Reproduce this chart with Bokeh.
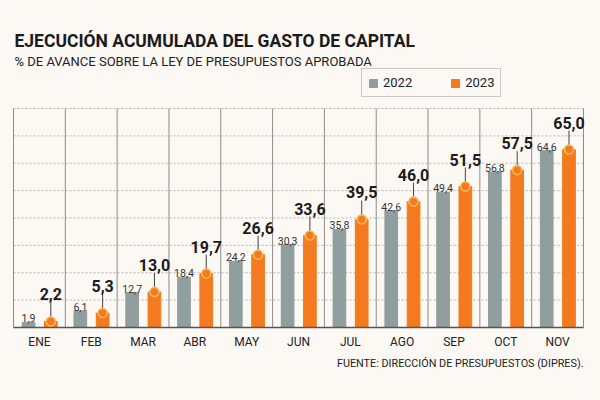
from bokeh.plotting import figure
from bokeh.models import Label, Legend, LegendItem, ColumnDataSource, Range1d
from bokeh.core.properties import value
from bokeh.embed import file_html
from bokeh.resources import INLINE

months = ["ENE", "FEB", "MAR", "ABR", "MAY", "JUN", "JUL", "AGO", "SEP", "OCT", "NOV"]
v2022 = [1.9, 6.1, 12.7, 18.4, 24.2, 30.3, 35.8, 42.6, 49.4, 56.8, 64.6]
v2023 = [2.2, 5.3, 13.0, 19.7, 26.6, 33.6, 39.5, 46.0, 51.5, 57.5, 65.0]
y_ticks = [10, 20, 30, 40, 50, 60, 70, 80]

title = "EJECUCIÓN ACUMULADA DEL GASTO DE CAPITAL"
subtitle = "% DE AVANCE SOBRE LA LEY DE PRESUPUESTOS APROBADA"
source_txt = "FUENTE: DIRECCIÓN DE PRESUPUESTOS (DIPRES)."

BG = "#fcf8f4"
GRAY = "#919e9e"
ORANGE = "#f47a20"
FONT = "Roboto"

W, H = 600, 400
PL, PR, PT, PB = 13, 583, 108, 327   # plot area in canvas pixels
YMAX = 80
n = len(months)
cw = (PR - PL) / n            # px per category
ppu = (PB - PT) / YMAX        # px per value unit

p = figure(width=W, height=H, output_backend="svg", toolbar_location=None,
           x_range=Range1d(-PL / cw, (W - PL) / cw),
           y_range=Range1d(-(H - PB) / ppu, PB / ppu),
           x_axis_location=None, y_axis_location=None,
           min_border=0, background_fill_color=BG, border_fill_color=BG)
p.outline_line_color = None
p.xgrid.visible = False
p.ygrid.visible = False

idx = list(range(n))
xc = [i + 0.5 for i in idx]
xg = [i + 0.5 - 0.21 for i in idx]
xo = [i + 0.5 + 0.22 for i in idx]
fmt = lambda v: f"{v:.1f}".replace(".", ",")

src = ColumnDataSource(dict(xg=xg, xo=xo, v22=v2022, v23=v2023,
                            l22=[fmt(v) for v in v2022], l23=[fmt(v) for v in v2023]))

# grid: dotted horizontals, solid category separators
p.segment(x0=[0] * len(y_ticks), x1=[n] * len(y_ticks), y0=y_ticks, y1=y_ticks,
          line_color="#b5b5b5", line_width=1, line_dash="2 2")
p.segment(x0=list(range(n + 1)), x1=list(range(n + 1)), y0=[0] * (n + 1), y1=[YMAX] * (n + 1),
          line_color="#8c8c8c", line_width=1)

r22 = p.vbar(x="xg", top="v22", width=0.245, color=GRAY, source=src)
r23 = p.vbar(x="xo", top="v23", width=0.245, color=ORANGE, source=src)

# baseline axis
p.segment(x0=[0], x1=[n], y0=[0], y1=[0], line_color="#555555", line_width=1.5)
p.text(x=xc, y=[0] * n, text=months, y_offset=14, text_align="center",
       text_baseline="middle", text_font=value(FONT), text_font_size="12px",
       text_color="#222222")

stem = [v + 19 / ppu for v in v2023]
p.segment(x0=xo, y0=v2023, x1=xo, y1=stem, line_color="#444444", line_width=1)
p.scatter(x="xo", y="v23", size=9, fill_color=ORANGE, line_color="#f8b652", line_width=1.6, source=src)

p.text(x="xo", y="v23", text="l23", source=src, y_offset=-27, text_align="center",
       text_baseline="alphabetic", text_font=value(FONT), text_font_style="bold",
       text_font_size="16px", text_color="#1b1b1b")
p.text(x="xg", y="v22", text="l22", source=src, y_offset=-4, text_align="center",
       text_baseline="alphabetic", text_font=value(FONT),
       text_font_size="10.5px", text_color="#333333")

def sy(cy):
    return H - cy

p.add_layout(Label(x=14, y=sy(40), x_units="screen", y_units="screen", text=title,
                   text_font=FONT, text_font_style="bold", text_font_size="17.5px",
                   text_color="#1b1b1b", text_baseline="middle"))
p.add_layout(Label(x=14, y=sy(61), x_units="screen", y_units="screen", text=subtitle,
                   text_font=FONT, text_font_size="13px",
                   text_color="#222222", text_baseline="middle"))
p.add_layout(Label(x=583, y=sy(363), x_units="screen", y_units="screen", text=source_txt,
                   text_font=FONT, text_font_size="10.8px", text_align="right",
                   text_color="#222222", text_baseline="middle"))

legend = Legend(items=[LegendItem(label="2022", renderers=[r22]),
                       LegendItem(label="2023", renderers=[r23])],
                orientation="horizontal", location=(361, sy(97)),
                glyph_width=10, glyph_height=10, label_height=10, label_text_font=FONT,
                label_text_font_size="13px", label_text_color="#222222",
                border_line_color="#9a9a9a", border_line_width=1,
                background_fill_color=BG, background_fill_alpha=1,
                padding=6, spacing=38, margin=0, label_standoff=5)
p.add_layout(legend)

open("out.html", "w").write(file_html(p, INLINE))
